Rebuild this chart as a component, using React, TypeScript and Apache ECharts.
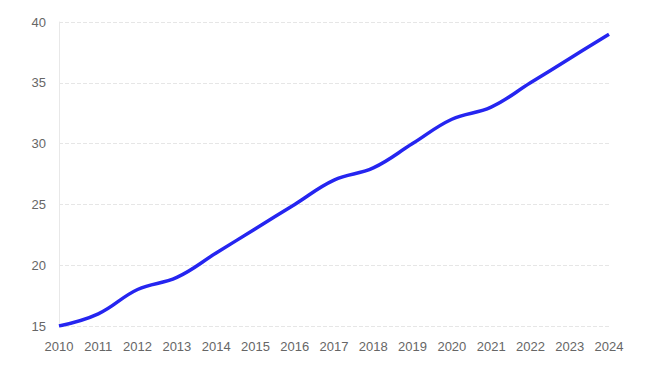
import React, { useEffect, useRef } from "react";
import * as echarts from "echarts";

const years = ["2010","2011","2012","2013","2014","2015","2016","2017","2018","2019","2020","2021","2022","2023","2024"];
const values = [15, 16, 18, 19, 21, 23, 25, 27, 28, 30, 32, 33, 35, 37, 39];

export default function App() {
  const ref = useRef<HTMLDivElement>(null);
  useEffect(() => {
    if (!ref.current) return;
    const chart = echarts.init(ref.current, null, { renderer: "svg" });
    chart.setOption({
      animation: false,
      grid: { left: 51, right: 51, top: 14, bottom: 42, containLabel: false },
      xAxis: {
        type: "category",
        data: years,
        boundaryGap: false,
        axisLine: { show: false },
        axisTick: { show: false },
        axisLabel: { color: "#666", fontSize: 13, margin: 14, fontFamily: "Arial, Liberation Sans, sans-serif" },
      },
      yAxis: {
        type: "value",
        min: 15,
        max: 40,
        interval: 5,
        axisLine: { show: true, lineStyle: { color: "#e8e8e8" } },
        axisTick: { show: false },
        axisLabel: { color: "#666", fontSize: 13, margin: 13, fontFamily: "Arial, Liberation Sans, sans-serif" },
        splitLine: { show: true, lineStyle: { color: "#e6e6e6", type: "dashed" } },
      },
      series: [
        {
          type: "line",
          data: values,
          smooth: 0.4,
          showSymbol: false,
          lineStyle: { color: "#2525f0", width: 3.5 },
          itemStyle: { color: "#2525f0" },
        },
      ],
    });
    return () => chart.dispose();
  }, []);
  return <div ref={ref} style={{ width: 652, height: 360 }} />;
}
